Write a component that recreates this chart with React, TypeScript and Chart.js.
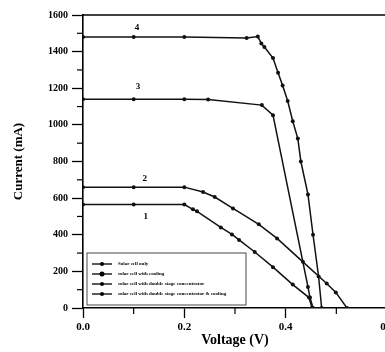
import React, { useEffect, useRef } from "react";
import { Chart, registerables } from "chart.js";

Chart.register(...registerables);

// Series names (legend)
const seriesNames = [
  "Solar cell only",
  "solar cell with cooling",
  "solar cell with double stage concentrator",
  "solar cell with double stage concentrator & cooling",
];

// Curve 1: solar cell only
const volt1 = [0, 0.1, 0.2, 0.217, 0.225, 0.272, 0.294, 0.308, 0.339, 0.375, 0.414, 0.446, 0.452];
const curr1 = [565, 565, 565, 539, 528, 440, 402, 372, 306, 223, 128, 57, 0];

// Curve 2: solar cell with cooling
const volt2 = [0, 0.1, 0.2, 0.237, 0.26, 0.296, 0.347, 0.383, 0.434, 0.481, 0.499, 0.521];
const curr2 = [660, 660, 660, 633, 606, 544, 457, 380, 252, 134, 85, 0];

// Curve 3: double stage concentrator
const volt3 = [0, 0.1, 0.2, 0.247, 0.353, 0.375, 0.444, 0.448, 0.454];
const curr3 = [1140, 1140, 1140, 1138, 1108, 1053, 115, 57, 0];

// Curve 4: double stage concentrator & cooling
const volt4 = [0, 0.1, 0.2, 0.323, 0.345, 0.352, 0.358, 0.375, 0.385, 0.394, 0.404, 0.414, 0.424, 0.43, 0.444, 0.454, 0.465, 0.471];
const curr4 = [1480, 1480, 1480, 1474, 1482, 1445, 1425, 1365, 1285, 1215, 1130, 1020, 925, 800, 620, 400, 172, 0];

// Curve number tags
const curveTags = ["1", "2", "3", "4"];
const tagVolt = [0.124, 0.122, 0.1085, 0.1065];
const tagCurr = [500, 708, 1206, 1529];

// Axis ticks
const xMajorTicks = [0, 0.2, 0.4, 0.6];
const xMinorTicks = [0.1, 0.3, 0.5];
const yMinorTicks = [100, 300, 500, 700, 900, 1100, 1300, 1500];

const SERIF = '"Liberation Serif", "Times New Roman", serif';

const toPts = (xs: number[], ys: number[]) => xs.map((x, i) => ({ x, y: ys[i] }));

export default function App() {
  const ref = useRef<HTMLCanvasElement | null>(null);

  useEffect(() => {
    if (!ref.current) return;

    const overlay = {
      id: "overlay",
      afterDraw(chart: any) {
        const ctx = chart.ctx;
        const xs = chart.scales.x;
        const ys = chart.scales.y;
        const area = chart.chartArea;
        ctx.save();
        ctx.strokeStyle = "#000";
        ctx.fillStyle = "#000";
        // top frame
        ctx.lineWidth = 1.6;
        ctx.beginPath();
        ctx.moveTo(area.left, area.top);
        ctx.lineTo(area.right + 2, area.top);
        ctx.stroke();
        // minor ticks
        ctx.lineWidth = 1.2;
        yMinorTicks.forEach((v) => {
          const py = ys.getPixelForValue(v);
          ctx.beginPath();
          ctx.moveTo(area.left - 6, py);
          ctx.lineTo(area.left, py);
          ctx.stroke();
        });
        xMinorTicks.forEach((v) => {
          const px = xs.getPixelForValue(v);
          ctx.beginPath();
          ctx.moveTo(px, area.bottom);
          ctx.lineTo(px, area.bottom + 6);
          ctx.stroke();
        });
        // curve tags
        ctx.font = "bold 9px " + SERIF;
        ctx.textAlign = "center";
        ctx.textBaseline = "middle";
        curveTags.forEach((t, i) => {
          ctx.fillText(t, xs.getPixelForValue(tagVolt[i]), ys.getPixelForValue(tagCurr[i]));
        });
        // legend box
        const bx = 87, by = 253, bw = 159, bh = 52;
        ctx.lineWidth = 0.9;
        ctx.strokeStyle = "#333";
        ctx.fillStyle = "#fff";
        ctx.fillRect(bx, by, bw, bh);
        ctx.strokeRect(bx, by, bw, bh);
        ctx.strokeStyle = "#000";
        ctx.fillStyle = "#000";
        ctx.font = "bold 5px " + SERIF;
        ctx.textAlign = "left";
        seriesNames.forEach((name, i) => {
          const ly = by + 11 + i * 10;
          ctx.lineWidth = 1.3;
          ctx.beginPath();
          ctx.moveTo(bx + 5, ly);
          ctx.lineTo(bx + 25, ly);
          ctx.stroke();
          ctx.beginPath();
          ctx.arc(bx + 15, ly, i === 1 ? 2.5 : 2, 0, Math.PI * 2);
          ctx.fill();
          ctx.fillText(name, bx + 31, ly);
        });
        ctx.restore();
      },
    };

    const ds = (xs: number[], ys: number[], label: string) => ({
      label,
      data: toPts(xs, ys),
      borderColor: "#111",
      backgroundColor: "#111",
      borderWidth: 1.5,
      pointRadius: 2,
      pointBackgroundColor: "#111",
      pointBorderWidth: 0,
      tension: 0,
      fill: false,
      showLine: true,
    });

    const chart = new Chart(ref.current, {
      type: "scatter",
      data: {
        datasets: [
          ds(volt1, curr1, seriesNames[0]),
          ds(volt2, curr2, seriesNames[1]),
          ds(volt3, curr3, seriesNames[2]),
          ds(volt4, curr4, seriesNames[3]),
        ],
      },
      options: {
        responsive: false,
        animation: false,
        devicePixelRatio: 1,
        layout: { padding: { left: 0, top: 15, right: 13, bottom: 0 } },
        plugins: { legend: { display: false }, tooltip: { enabled: false } },
        scales: {
          x: {
            type: "linear",
            min: 0,
            max: 0.6,
            afterBuildTicks: (scale: any) => {
              scale.ticks = xMajorTicks.map((v) => ({ value: v }));
            },
            afterFit: (scale: any) => {
              scale.height = 44;
            },
            ticks: {
              callback: (v: any) => Number(v).toFixed(1),
              font: { family: SERIF, size: 11, weight: "bold" },
              color: "#000",
              padding: 3,
              maxRotation: 0,
            },
            grid: {
              drawOnChartArea: false,
              drawTicks: true,
              tickLength: 10,
              tickColor: "#000",
              tickWidth: 1.3,
            },
            border: { color: "#000", width: 1.6 },
            title: {
              display: true,
              text: "Voltage (V)",
              font: { family: SERIF, size: 14, weight: "bold" },
              color: "#000",
              padding: { top: 0, bottom: 3 },
            },
          },
          y: {
            type: "linear",
            min: 0,
            max: 1600,
            ticks: {
              stepSize: 200,
              callback: (v: any) => String(v),
              font: { family: SERIF, size: 10, weight: "bold" },
              color: "#000",
              padding: 4,
            },
            afterFit: (scale: any) => {
              scale.width = 83;
            },
            grid: {
              drawOnChartArea: false,
              drawTicks: true,
              tickLength: 11,
              tickColor: "#000",
              tickWidth: 1.3,
            },
            border: { color: "#000", width: 1.6 },
            title: {
              display: true,
              text: "Current (mA)",
              font: { family: SERIF, size: 13, weight: "bold" },
              color: "#000",
              padding: { top: 11, bottom: 0 },
            },
          },
        },
      },
      plugins: [overlay],
    } as any);

    return () => chart.destroy();
  }, []);

  return (
    <div
      style={{
        position: "fixed",
        left: 0,
        top: 0,
        width: 385,
        height: 352,
        overflow: "hidden",
        background: "#fff",
      }}
    >
      <canvas ref={ref} width={400} height={352} style={{ display: "block", width: 400, height: 352 }} />
    </div>
  );
}
